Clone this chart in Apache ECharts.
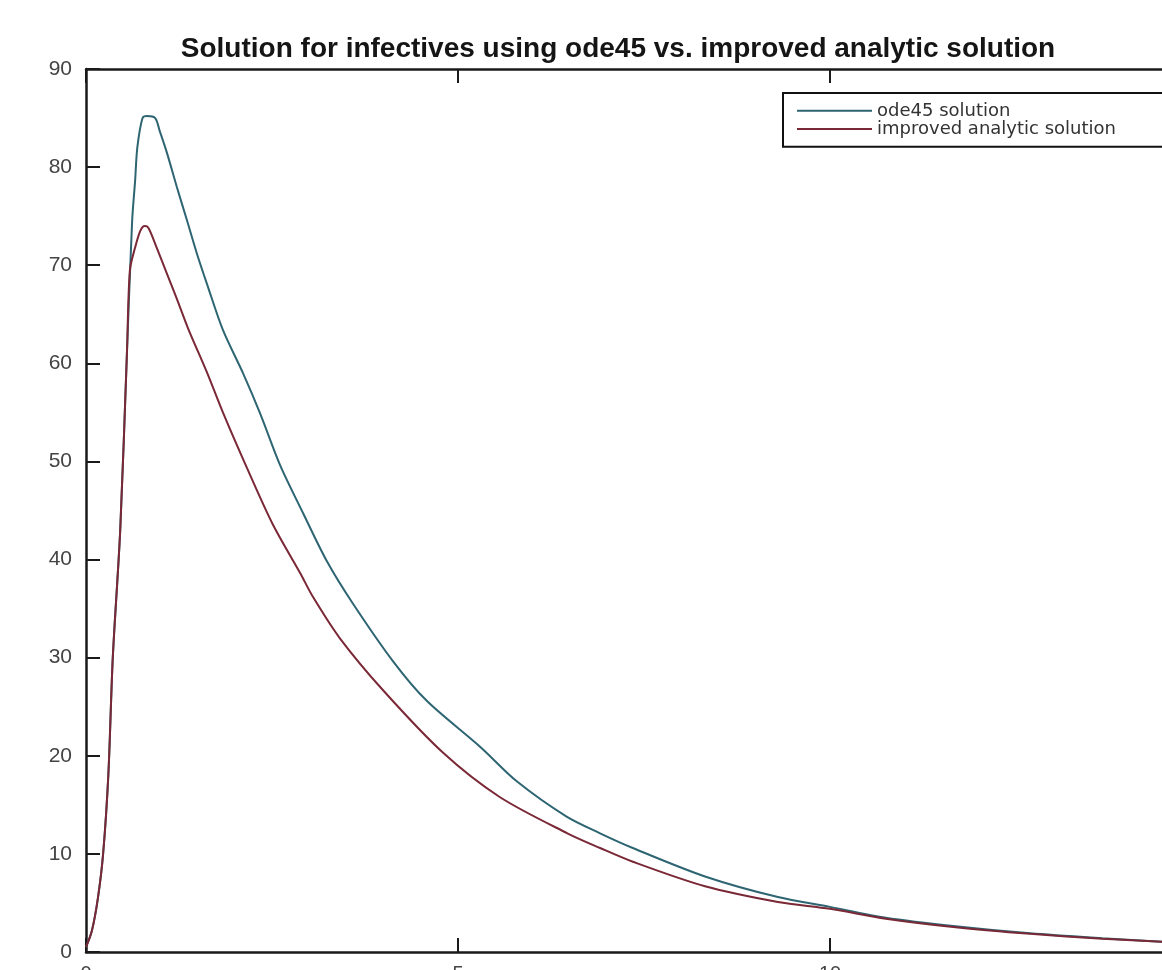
<title>infectives</title>
<script src="https://cdn.jsdelivr.net/npm/echarts@6/dist/echarts.min.js"></script>
<style>
  body{margin:0;background:#fff;}
  #chart{width:1162px;height:970px;}
</style>
<div id="chart"></div>
<script>
  // ode45 solution
  var tOde = [0, 0.08, 0.16, 0.23, 0.30, 0.36, 0.46, 0.55, 0.62, 0.66, 0.69, 0.76, 0.82, 0.93, 0.99, 1.09, 1.22, 1.36, 1.49, 1.63, 1.84, 2.11, 2.34, 2.61, 2.92, 3.24, 3.58, 4.13, 4.58, 5.30, 5.79, 6.46, 6.91, 7.35, 8.32, 9.30, 10.0, 10.75, 11.72, 12.69, 13.66, 14.46, 15];
  var yOde = [0.5, 2.2, 5.5, 10, 18, 30, 43, 61, 74.5, 78.6, 82, 85, 85.2, 85.0, 83.7, 81.4, 78.0, 74.5, 71.2, 68.0, 63.4, 59.0, 54.9, 49.6, 44.7, 39.8, 35.6, 29.6, 25.6, 20.9, 17.4, 13.8, 12.1, 10.6, 7.7, 5.6, 4.6, 3.5, 2.6, 1.9, 1.4, 1.05, 0.85];
  // improved analytic solution
  var tImp = [0, 0.08, 0.16, 0.23, 0.30, 0.36, 0.46, 0.55, 0.59, 0.66, 0.73, 0.79, 0.84, 0.95, 1.09, 1.22, 1.37, 1.63, 1.84, 2.16, 2.51, 2.88, 3.05, 3.41, 3.99, 4.80, 5.56, 6.47, 6.91, 7.35, 8.32, 9.30, 10.0, 10.75, 11.72, 12.69, 13.66, 14.46, 15];
  var yImp = [0.5, 2.2, 5.5, 10, 18, 30, 43, 61, 69.5, 71.8, 73.5, 74.0, 73.8, 71.8, 69.1, 66.6, 63.6, 59.0, 55.0, 49.4, 43.6, 38.6, 36.2, 32.0, 26.7, 20.3, 15.8, 12.1, 10.6, 9.2, 6.7, 5.1, 4.4, 3.4, 2.5, 1.85, 1.35, 1.05, 0.85];
  var xTicks = [0, 5, 10, 15];
  var yTicks = [0, 10, 20, 30, 40, 50, 60, 70, 80, 90];

  function pairs(t, y){ return t.map(function(v, i){ return [v, y[i]]; }); }

  var chart = echarts.init(document.getElementById('chart'));
  var axisLine = { show: true, lineStyle: { color: '#1a1a1a', width: 2.5 } };
  var axisTick = { show: true, inside: true, length: 14, lineStyle: { color: '#1a1a1a', width: 2 } };
  var font = 'Liberation Sans, Arial, sans-serif';

  chart.setOption({
    backgroundColor: '#fff',
    animation: false,
    title: {
      text: 'Solution for infectives using ode45 vs. improved analytic solution',
      left: 613, top: 20, textAlign: 'center',
      textStyle: { fontSize: 28, fontWeight: 'bold', color: '#151515', fontFamily: font }
    },
    legend: {
      left: 783, top: 93, orient: 'vertical',
      padding: [0, 60, 0, 14], itemGap: -17.5,
      itemWidth: 75, itemHeight: 2, icon: 'rect',
      borderColor: '#111', borderWidth: 2, backgroundColor: '#fff',
      textStyle: { fontSize: 18, color: '#333', fontFamily: 'DejaVu Sans, sans-serif' },
      data: ['ode45 solution', 'improved analytic solution']
    },
    grid: { left: 86, top: 69, bottom: 18, right: -40, outerBoundsMode: 'none', containLabel: false },
    xAxis: [{
      type: 'value', min: 0, max: 15, interval: 5,
      axisLine: axisLine, axisTick: axisTick, splitLine: { show: false },
      axisLabel: { margin: 5, fontSize: 20, color: '#444', fontFamily: font,
        formatter: function(v){ return xTicks.indexOf(v) >= 0 ? String(v) : ''; } }
    }, {
      type: 'value', position: 'top', min: 0, max: 15, interval: 5,
      axisLine: axisLine, axisTick: axisTick, splitLine: { show: false },
      axisLabel: { show: false }
    }],
    yAxis: [{
      type: 'value', min: 0, max: 90, interval: 10,
      axisLine: axisLine, axisTick: axisTick, splitLine: { show: false },
      axisLabel: { margin: 14, fontSize: 21, color: '#444', fontFamily: font,
        formatter: function(v){ return yTicks.indexOf(v) >= 0 ? String(v) : ''; } }
    }],
    series: [{
      name: 'ode45 solution', type: 'line', smooth: 0.3, showSymbol: false, symbol: 'none',
      color: '#2e6572',
      lineStyle: { color: '#2e6572', width: 2 },
      data: pairs(tOde, yOde)
    }, {
      name: 'improved analytic solution', type: 'line', smooth: 0.3, showSymbol: false, symbol: 'none',
      color: '#7a2836',
      lineStyle: { color: '#7a2836', width: 2 },
      data: pairs(tImp, yImp)
    }]
  });
</script>
